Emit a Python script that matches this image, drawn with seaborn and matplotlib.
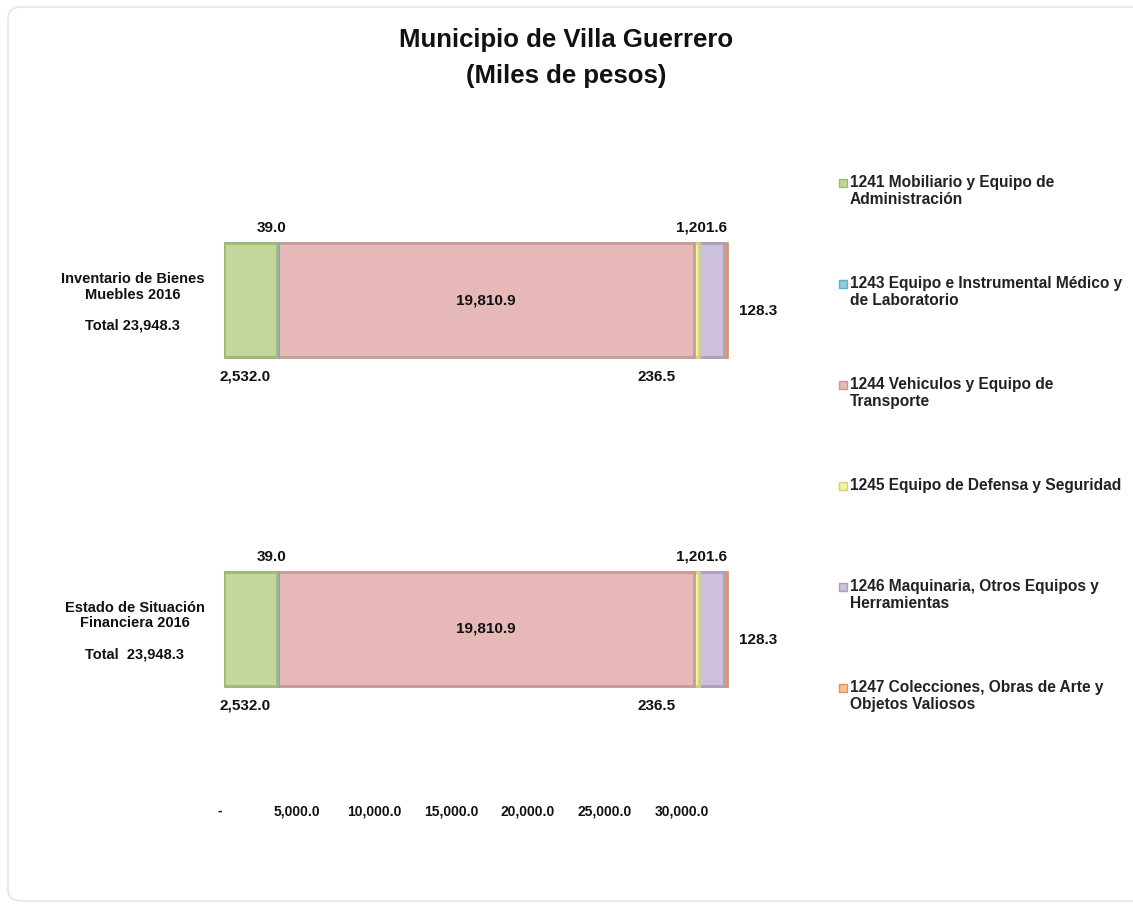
import matplotlib
matplotlib.use("Agg")
import matplotlib.pyplot as plt
import seaborn as sns
import pandas as pd
from matplotlib.patches import Rectangle, FancyBboxPatch
from matplotlib.ticker import FuncFormatter

# --- data ------------------------------------------------------------------
categories = [
    "Inventario de Bienes\nMuebles 2016\n\nTotal 23,948.3",
    "Estado de Situación\nFinanciera 2016\n\nTotal  23,948.3",
]
components = [
    "1241 Mobiliario y Equipo de\nAdministración",
    "1243 Equipo e Instrumental Médico y\nde Laboratorio",
    "1244 Vehiculos y Equipo de\nTransporte",
    "1245 Equipo de Defensa y Seguridad",
    "1246 Maquinaria, Otros Equipos y\nHerramientas",
    "1247 Colecciones, Obras de Arte y\nObjetos Valiosos",
]
values_inventario = [2532.0, 39.0, 19810.9, 236.5, 1201.6, 128.3]
values_estado = [2532.0, 39.0, 19810.9, 236.5, 1201.6, 128.3]
axis_ticks = [0, 5000, 10000, 15000, 20000, 25000, 30000]

fills = ["#C4D79B", "#92CDDC", "#E6B8B7", "#F3F39C", "#CCC0DA", "#FABF8F"]
edges = ["#A3B877", "#5FAFC8", "#C79B9A", "#D2D27A", "#ACA0BD", "#E0955E"]

W, H = 1133, 907
ARIAL = ["Liberation Sans", "DejaVu Sans"]

sns.set_theme(style="white")
plt.rcParams["font.family"] = ARIAL

rows = []
for cat, vals in zip(categories, [values_inventario, values_estado]):
    running = 0.0
    for comp, v in zip(components, vals):
        running += v
        rows.append({"category": cat, "component": comp, "value": v, "cum": running})
df = pd.DataFrame(rows)

fig = plt.figure(figsize=(W / 100, H / 100), dpi=100)
fig.patch.set_facecolor("white")

# light rounded frame around the chart area
frame = FancyBboxPatch((8 / W, 6 / H), (1150 - 8) / W, (900 - 6) / H,
                       boxstyle="round,pad=0,rounding_size=0.012",
                       transform=fig.transFigure, facecolor="none",
                       edgecolor="#E0E0E0", linewidth=1.0)
fig.patches.append(frame)

ax = fig.add_axes([224 / W, 1 - 780 / H, 630 / W, 630 / H])

# stacked bars: overlay cumulative totals, widest first
for i in reversed(range(len(components))):
    sub = df[df["component"] == components[i]]
    sns.barplot(data=sub, x="cum", y="category", order=categories, orient="h",
                color=fills[i], edgecolor=edges[i], linewidth=2.0,
                width=0.347, saturation=1, ax=ax)

ax.set_xlim(0, 30000)
ax.set_ylim(1.459, -0.456)
ax.set_xticks([])
ax.set_xlabel("")
ax.set_ylabel("")
for s in ax.spines.values():
    s.set_visible(False)
ax.tick_params(axis="y", length=0, pad=14)
for lbl in ax.get_yticklabels():
    lbl.set_multialignment("center")
    lbl.set_fontsize(10.5)
    lbl.set_fontweight("bold")
    lbl.set_color("#111111")
    lbl.set_linespacing(1.15)

# data labels
half = 0.347 / 2
lab_kw = dict(textcoords="offset points", fontsize=11, fontweight="bold", color="#111111")
for j, cat in enumerate(categories):
    sub = df[df["category"] == cat].reset_index(drop=True)
    starts = sub["cum"] - sub["value"]
    mids = starts + sub["value"] / 2
    fmt = [f"{v:,.1f}" for v in sub["value"]]
    ax.annotate(fmt[0], (mids[0], j + half), xytext=(-4, -9), ha="center", va="top", **lab_kw)
    ax.annotate(fmt[1], (mids[1], j - half), xytext=(-4, 6), ha="center", va="bottom", **lab_kw)
    ax.annotate(fmt[2], (mids[2], j), xytext=(0, 0), ha="center", va="center", **lab_kw)
    ax.annotate(fmt[3], (mids[3], j + half), xytext=(-15, -9), ha="right", va="top", **lab_kw)
    ax.annotate(fmt[4], (mids[4], j - half), xytext=(-7, 6), ha="center", va="bottom", **lab_kw)
    ax.annotate(fmt[5], (sub["cum"][5], j), xytext=(9, -8), ha="left", va="center", **lab_kw)

# value axis labels (drawn on their own strip, as in the source)
ax_t = fig.add_axes([220 / W, 1 - 800 / H, 462 / W, 0.0001])
ax_t.set_xlim(axis_ticks[0], axis_ticks[-1])
ax_t.set_xticks(axis_ticks)
ax_t.xaxis.set_major_formatter(FuncFormatter(lambda x, p: "-" if x == 0 else f"{x:,.1f}"))
ax_t.set_yticks([])
ax_t.tick_params(axis="x", length=0, pad=3)
for lbl in ax_t.get_xticklabels():
    lbl.set_fontsize(10)
    lbl.set_fontweight("bold")
    lbl.set_color("#111111")
for s in ax_t.spines.values():
    s.set_visible(False)
ax_t.patch.set_alpha(0)

# title
fig.text(0.5, 1 - 58 / H, "Municipio de Villa Guerrero\n(Miles de pesos)",
         ha="center", va="center", fontsize=18.5, fontweight="bold",
         linespacing=1.6, color="#111111")

# legend: one entry per component, evenly spaced down the right side
for i, (label, f, e) in enumerate(zip(components, fills, edges)):
    y_px = 183 + 101 * i
    fig.patches.append(Rectangle((839 / W, 1 - (y_px + 4) / H), 8 / W, 8 / H,
                                 transform=fig.transFigure, facecolor=f,
                                 edgecolor=e, linewidth=1))
    fig.text(850 / W, 1 - (y_px - 8) / H, label, ha="left", va="top",
             fontsize=11.2, fontweight="bold", color="#222222", linespacing=1.15)

fig.savefig("out.png", dpi=100, facecolor="white")
